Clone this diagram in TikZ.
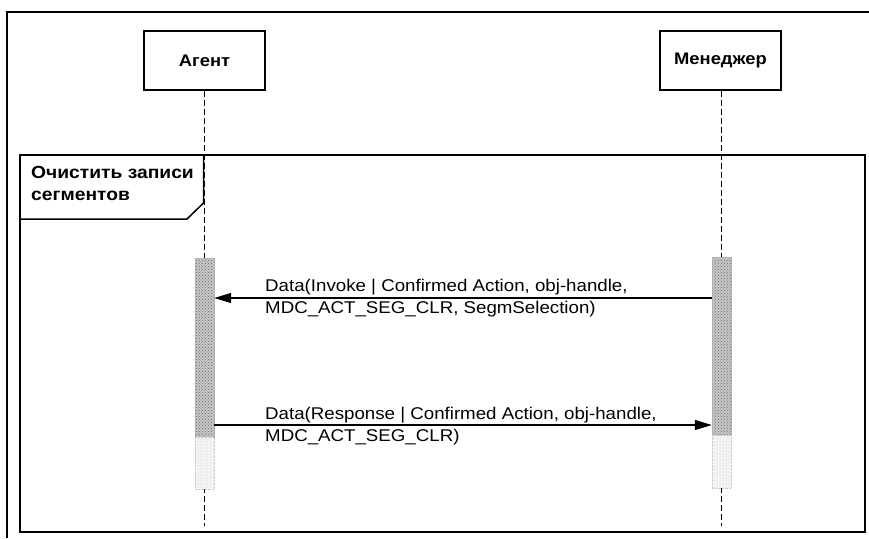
\documentclass[tikz,border=0pt]{standalone}
\usepackage{fontspec}
\setmainfont{Liberation Sans}[FakeStretch=1.1]
\usetikzlibrary{arrows.meta,patterns}
\begin{document}
\begin{tikzpicture}[x=1pt,y=-1pt,
  frameline/.style={line width=1.6pt,black},
  actor/.style={draw,line width=1.2pt,minimum width=121pt,minimum height=59pt,inner sep=0pt,font=\fontsize{16.7}{20}\selectfont\bfseries},
  lifeline/.style={line width=0.9pt,dash pattern=on 6pt off 3pt},
  actdark/.style={preaction={fill=gray!45},pattern=crosshatch dots,pattern color=gray!85!black,draw=gray!60,line width=0.4pt,minimum width=19pt,inner sep=0pt},
  actlight/.style={preaction={fill=gray!8},pattern=dots,pattern color=gray!55,draw=gray!40,densely dotted,line width=0.4pt,minimum width=19pt,inner sep=0pt},
  msg/.style={line width=1.3pt,-{Triangle[length=17pt,width=10pt]}},
  msgtext/.style={align=left,inner sep=0pt,anchor=west,font=\fontsize{17}{22}\selectfont},
  fraglabel/.style={align=left,inner sep=0pt,anchor=north west,font=\fontsize{17.5}{22}\selectfont\bfseries}
]
\useasboundingbox (0,0) rectangle (869,538);
\fill[white] (0,0) rectangle (869,538);
% outer frame (cropped)
\draw[frameline] (7,538) -- (7,12) -- (869,12);
% actors
\node[actor] (agent) at (204.5,60.5) {Агент};
\node[actor] (mgr) at (720.5,60.5) {Менеджер};
% lifelines
\coordinate (aend) at (204.5,526);
\coordinate (mend) at (721.5,526);
\draw[lifeline] (agent.south) -- (aend);
\draw[lifeline] (mgr.south -| mend) -- (mend);
% combined fragment
\draw[line width=1.5pt] (20,155) rectangle (865,532);
\draw[line width=1.5pt] (20,219) -- (187,219) -- (203.5,203) -- (203.5,155);
\node[fraglabel] (lbl) at (31,166) {Очистить записи\\сегментов};
% activation bars
\node[actdark,minimum height=179pt,anchor=north] (abar) at (204.5,258) {};
\node[actlight,minimum height=52pt,anchor=north] (abarl) at (204.5,437) {};
\node[actdark,minimum height=178pt,anchor=north] (mbar) at (721.5,257) {};
\node[actlight,minimum height=53pt,anchor=north] (mbarl) at (721.5,435) {};
% messages
\coordinate (m1y) at (0,298);
\coordinate (m2y) at (0,425);
\draw[msg] (mbar.west |- m1y) -- (abar.east |- m1y);
\draw[msg] (abar.east |- m2y) -- (mbar.west |- m2y);
\node[msgtext] (t1) at (265,298.5) {Data(Invoke | Confirmed Action, obj-handle,\\MDC\_ACT\_SEG\_CLR, SegmSelection)};
\node[msgtext] (t2) at (265,426) {Data(Response | Confirmed Action, obj-handle,\\MDC\_ACT\_SEG\_CLR)};
\end{tikzpicture}
\end{document}
